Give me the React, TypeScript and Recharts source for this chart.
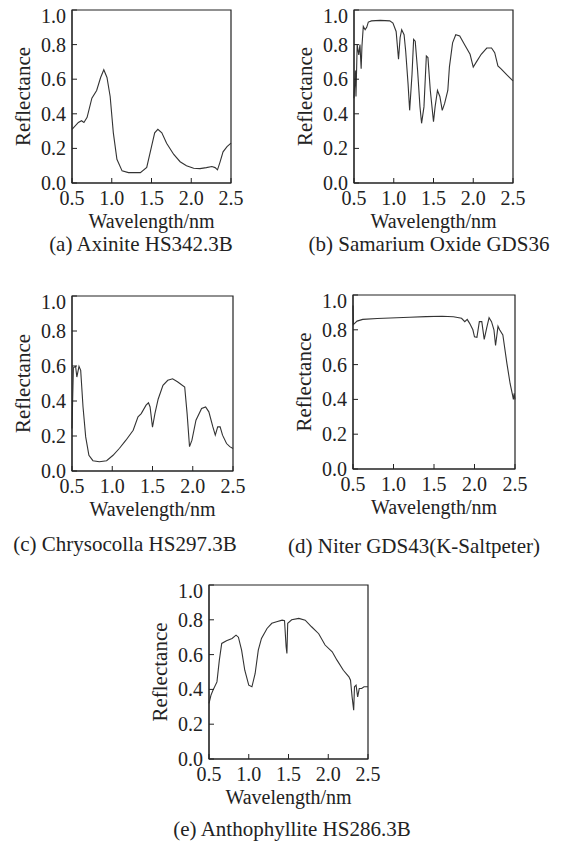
import React from 'react';
import { LineChart, Line, XAxis, YAxis, ReferenceArea } from 'recharts';

const FONT = '"Liberation Serif", "Times New Roman", serif';
const INK = '#222';
const CURVE = '#333';

const WL_TICKS = [0.5, 1.0, 1.5, 2.0, 2.5];
const REFL_TICKS = [0, 0.2, 0.4, 0.6, 0.8, 1.0];

// (a) Axinite HS342.3B
const axiniteWl = [0.5, 0.58, 0.62, 0.65, 0.69, 0.75, 0.81, 0.86, 0.9, 0.94, 0.98, 1.02, 1.065, 1.13, 1.21, 1.36, 1.44, 1.5, 1.54, 1.58, 1.63, 1.69, 1.78, 1.86, 1.94, 2.03, 2.11, 2.19, 2.26, 2.3, 2.33, 2.36, 2.4, 2.45, 2.5];
const axiniteRefl = [0.31, 0.35, 0.36, 0.35, 0.38, 0.49, 0.535, 0.61, 0.655, 0.61, 0.5, 0.29, 0.137, 0.07, 0.06, 0.06, 0.09, 0.21, 0.29, 0.31, 0.29, 0.23, 0.165, 0.123, 0.1, 0.085, 0.083, 0.089, 0.095, 0.089, 0.076, 0.118, 0.18, 0.21, 0.23];

// (b) Samarium Oxide GDS36
const samariumWl = [0.5, 0.517, 0.525, 0.54, 0.56, 0.575, 0.59, 0.6, 0.617, 0.64, 0.66, 0.68, 0.72, 0.83, 0.95, 0.99, 1.03, 1.06, 1.08, 1.1, 1.13, 1.15, 1.18, 1.2, 1.23, 1.25, 1.27, 1.3, 1.33, 1.35, 1.38, 1.41, 1.43, 1.46, 1.5, 1.52, 1.55, 1.58, 1.61, 1.64, 1.68, 1.7, 1.74, 1.78, 1.83, 1.89, 1.96, 2.0, 2.04, 2.1, 2.17, 2.23, 2.27, 2.31, 2.35, 2.42, 2.5];
const samariumRefl = [0.49, 0.65, 0.5, 0.8, 0.74, 0.8, 0.66, 0.79, 0.905, 0.886, 0.9, 0.93, 0.937, 0.94, 0.937, 0.924, 0.876, 0.715, 0.84, 0.886, 0.857, 0.763, 0.573, 0.42, 0.63, 0.83, 0.82, 0.65, 0.44, 0.345, 0.44, 0.734, 0.725, 0.535, 0.355, 0.44, 0.535, 0.5, 0.42, 0.46, 0.535, 0.67, 0.81, 0.857, 0.85, 0.8, 0.744, 0.67, 0.7, 0.744, 0.78, 0.78, 0.753, 0.677, 0.66, 0.626, 0.59];

// (c) Chrysocolla HS297.3B
const chrysocollaWl = [0.5, 0.517, 0.545, 0.56, 0.587, 0.608, 0.637, 0.67, 0.71, 0.76, 0.84, 0.93, 1.01, 1.09, 1.17, 1.26, 1.32, 1.36, 1.42, 1.45, 1.47, 1.5, 1.53, 1.57, 1.63, 1.69, 1.75, 1.81, 1.9, 1.93, 1.96, 1.99, 2.04, 2.11, 2.16, 2.2, 2.25, 2.28, 2.31, 2.34, 2.37, 2.42, 2.46, 2.5];
const chrysocollaRefl = [0.243, 0.59, 0.598, 0.537, 0.598, 0.575, 0.366, 0.195, 0.09, 0.059, 0.053, 0.059, 0.09, 0.13, 0.176, 0.233, 0.31, 0.328, 0.376, 0.39, 0.366, 0.25, 0.328, 0.41, 0.49, 0.518, 0.527, 0.51, 0.48, 0.328, 0.139, 0.176, 0.29, 0.357, 0.366, 0.338, 0.252, 0.205, 0.252, 0.252, 0.205, 0.157, 0.139, 0.129];

// (d) Niter GDS43 (K-Saltpeter)
const niterWl = [0.5, 0.505, 0.55, 0.62, 0.8, 1.2, 1.4, 1.6, 1.74, 1.84, 1.88, 1.91, 1.94, 1.98, 2.0, 2.03, 2.06, 2.09, 2.12, 2.15, 2.18, 2.21, 2.24, 2.26, 2.29, 2.31, 2.35, 2.4, 2.44, 2.47, 2.48, 2.49, 2.5];
const niterRefl = [0.94, 0.83, 0.85, 0.86, 0.865, 0.872, 0.876, 0.878, 0.875, 0.866, 0.847, 0.86, 0.837, 0.8, 0.76, 0.757, 0.847, 0.847, 0.745, 0.81, 0.87, 0.847, 0.8, 0.71, 0.82, 0.8, 0.77, 0.607, 0.49, 0.425, 0.4, 0.435, 0.4];

// (e) Anthophyllite HS286.3B
const anthophylliteWl = [0.5, 0.525, 0.55, 0.6, 0.63, 0.66, 0.72, 0.79, 0.84, 0.87, 0.91, 0.95, 1.0, 1.04, 1.08, 1.12, 1.16, 1.23, 1.29, 1.35, 1.42, 1.45, 1.47, 1.48, 1.49, 1.54, 1.63, 1.71, 1.79, 1.88, 1.96, 2.05, 2.11, 2.19, 2.26, 2.28, 2.3, 2.32, 2.33, 2.35, 2.37, 2.39, 2.42, 2.45, 2.5];
const anthophylliteRefl = [0.32, 0.367, 0.395, 0.443, 0.568, 0.664, 0.68, 0.693, 0.712, 0.7, 0.626, 0.51, 0.424, 0.415, 0.49, 0.626, 0.693, 0.75, 0.78, 0.789, 0.798, 0.795, 0.645, 0.607, 0.78, 0.8, 0.808, 0.798, 0.76, 0.72, 0.655, 0.616, 0.568, 0.51, 0.472, 0.453, 0.357, 0.28, 0.415, 0.424, 0.357, 0.405, 0.405, 0.415, 0.415];

const YW = 72;   // left axis band (tick labels + title)
const MT = 10;
const MR = 16;
const XH = 52;   // bottom axis band
const AXIS_FS = 20;

type PanelProps = {
  wl: number[];
  refl: number[];
  caption: string;
  boxLeft: number;
  boxTop: number;
  plotW: number;
  plotH: number;
  capX: number;
  capY: number;
};

const tickStyle = { fontFamily: FONT, fontSize: AXIS_FS, fill: INK };

// the top label "1.0" sits a little below its tick in the original
const ReflTick = (props: any) => {
  const { x, y, payload } = props;
  const v = payload.value as number;
  return (
    <text x={x} y={y + (v === 1 ? 6 : 0)} dy={7} textAnchor="end" fontFamily={FONT} fontSize={AXIS_FS} fill={INK}>
      {v.toFixed(1)}
    </text>
  );
};

const Panel = ({ wl, refl, caption, boxLeft, boxTop, plotW, plotH, capX, capY }: PanelProps) => {
  const data = wl.map((w, i) => ({ wl: w, refl: refl[i] }));
  return (
    <>
      <div style={{ position: 'absolute', left: boxLeft - YW, top: boxTop - MT, fontFamily: FONT }}>
        <LineChart
          width={YW + plotW + MR}
          height={MT + plotH + XH}
          data={data}
          margin={{ top: MT, right: MR, bottom: 0, left: 0 }}
        >
          <XAxis
            dataKey="wl"
            type="number"
            domain={[0.5, 2.5]}
            ticks={WL_TICKS}
            tickFormatter={(v) => v.toFixed(1)}
            height={XH}
            stroke={INK}
            tick={tickStyle}
            tickSize={-5}
            tickMargin={13}
            interval={0}
            label={{ value: 'Wavelength/nm', position: 'insideBottom', offset: 7, style: { fontFamily: FONT, fontSize: AXIS_FS, fill: INK } }}
          />
          <YAxis
            type="number"
            domain={[0, 1]}
            ticks={REFL_TICKS}
            width={YW}
            stroke={INK}
            tick={<ReflTick />}
            tickSize={-5}
            tickMargin={11}
            interval={0}
            label={{ value: 'Reflectance', angle: -90, position: 'center', dx: -13, style: { fontFamily: FONT, fontSize: 21, fill: INK } }}
          />
          <YAxis
            yAxisId="r"
            orientation="right"
            type="number"
            domain={[0, 1]}
            ticks={REFL_TICKS}
            width={0}
            axisLine={false}
            tick={false}
            stroke={INK}
            tickSize={-5}
          />
          <ReferenceArea x1={0.5} x2={2.5} y1={0} y2={1} fill="none" stroke={INK} strokeWidth={1.2} fillOpacity={0} />
          <Line
            type="linear"
            dataKey="refl"
            stroke={CURVE}
            strokeWidth={1.1}
            dot={false}
            isAnimationActive={false}
          />
        </LineChart>
      </div>
      <div
        style={{
          position: 'absolute',
          left: capX - 160,
          top: capY - 10,
          width: 320,
          height: 20,
          lineHeight: '20px',
          textAlign: 'center',
          fontFamily: FONT,
          fontSize: 21,
          color: INK,
          whiteSpace: 'nowrap',
        }}
      >
        {caption}
      </div>
    </>
  );
};

export default function App() {
  return (
    <div style={{ position: 'absolute', left: 0, top: 0, width: 565, height: 841, background: '#fff', overflow: 'hidden' }}>
      <Panel wl={axiniteWl} refl={axiniteRefl} caption="(a) Axinite HS342.3B" boxLeft={72} boxTop={10} plotW={159} plotH={173} capX={141} capY={244} />
      <Panel wl={samariumWl} refl={samariumRefl} caption="(b) Samarium Oxide GDS36" boxLeft={354} boxTop={10} plotW={159} plotH={173} capX={429} capY={244} />
      <Panel wl={chrysocollaWl} refl={chrysocollaRefl} caption="(c) Chrysocolla HS297.3B" boxLeft={72} boxTop={296} plotW={161} plotH={175} capX={125} capY={544} />
      <Panel wl={niterWl} refl={niterRefl} caption="(d) Niter GDS43(K-Saltpeter)" boxLeft={353} boxTop={295} plotW={162} plotH={174} capX={414} capY={546} />
      <Panel wl={anthophylliteWl} refl={anthophylliteRefl} caption="(e) Anthophyllite HS286.3B" boxLeft={209} boxTop={585} plotW={159} plotH={174} capX={292} capY={829} />
    </div>
  );
}
